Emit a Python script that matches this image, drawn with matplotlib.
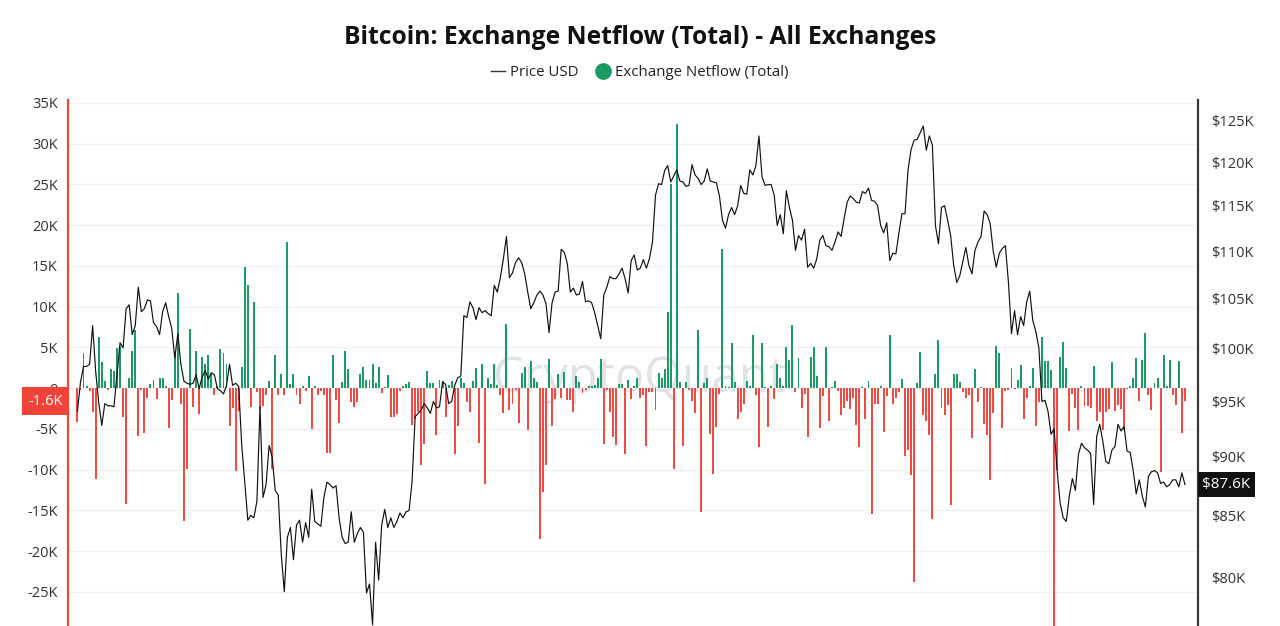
import numpy as np
import pandas as pd
import matplotlib
matplotlib.use("Agg")
import matplotlib.pyplot as plt
import matplotlib.dates as mdates
import matplotlib.ticker as mticker
from matplotlib.lines import Line2D

# ---------------- data ----------------
start_date = "2025-01-01"

# Exchange netflow (thousand BTC), one value per day
netflow_k = [
    -4.2, -0.3, 4.3, 0.3, -0.4, -2.9, -11.2, 6.2, 3.2, 0.9,
    -0.2, 2.3, 2.1, 4.9, 5.2, -3.5, -14.2, 1.2, 4.5, 7.1,
    -5.9, -0.2, -5.5, -1.2, 0.5, 1.0, -1.3, 1.2, 1.2, 0.2,
    -4.9, -1.5, 4.4, 11.7, -2.0, -16.3, -9.9, 7.2, -2.3, 4.6,
    -3.2, 3.8, 2.9, 4.0, 1.7, -0.8, 0.2, 4.8, 4.3, 2.9,
    -4.6, -2.5, -10.2, -2.8, 2.6, 14.8, 12.6, -2.3, 10.6, -0.5,
    -2.7, -2.2, -0.9, 0.9, -9.9, 4.1, -0.8, 1.75, -0.8, 17.9,
    0.5, 1.75, -0.8, -2.0, 0.2, -0.4, 1.5, -5.0, 0.2, -0.8,
    -0.4, -0.8, -8.0, -8.0, 4.0, -1.5, -4.25, 0.8, 4.5, 2.3,
    -1.7, -2.3, -1.7, 1.7, 2.6, 1.0, 1.0, 3.0, 0.6, 2.6,
    -0.6, 0.1, 1.6, -3.5, -3.5, -3.2, -0.4, 0.2, 0.5, 0.7,
    -4.5, -3.75, -2.9, -9.4, -6.9, 2.1, 0.6, 0.6, -5.75, 1.0,
    0.9, -3.5, 0.4, 0.9, -8.1, -4.6, 1.25, 0.6, -1.7, -2.9,
    0.9, 2.4, -6.75, 2.9, -11.75, 1.25, 0.5, 2.9, 0.4, -0.8,
    -3.1, 7.8, -2.7, -2.0, -0.3, -4.25, 1.9, 2.6, -5.1, 3.3,
    1.25, 0.75, -18.5, -12.8, -9.4, 3.5, -4.6, -1.3, 1.7, -1.2,
    2.0, -1.5, -1.5, -3.0, 1.5, 0.75, -0.6, -0.25, 0.2, 0.3,
    0.4, 1.25, 3.5, -6.9, -0.2, -2.9, -6.0, -7.0, 0.5, 0.5,
    -8.1, 1.0, -1.3, 0.2, 1.25, -1.25, -0.8, -7.1, -0.5, -0.5,
    -2.7, 1.8, 1.25, 2.3, 9.3, 25.0, -9.9, 32.4, 0.75, -7.1,
    0.75, -0.3, -1.6, -3.1, 7.1, -15.2, 0.6, 1.2, -5.6, -10.5,
    -4.8, -0.7, 17.1, 0.3, 0.1, 5.5, 0.8, -3.8, -2.9, -2.0,
    0.9, 0.2, 6.5, -0.9, -7.2, 5.5, 0.1, -4.8, 0.3, -1.3,
    2.9, 1.2, 0.2, 5.0, 3.4, 7.7, -0.5, 3.7, -2.5, -0.75,
    -6.0, 3.75, 5.0, 1.5, -4.9, -1.0, 5.0, -4.0, 0.1, 0.9,
    -0.4, -3.3, -2.5, -1.6, -2.6, -1.2, -4.5, -7.2, 0.15, -3.8,
    0.9, -15.4, -1.9, -1.9, 0.3, -5.4, -1.0, 6.5, -1.9, -1.2,
    -0.5, 1.1, -8.3, -7.6, -10.7, -23.8, 0.6, 4.4, -3.25, -4.0,
    -5.8, -16.1, 1.7, 5.9, -2.5, -3.3, -2.1, -14.4, 1.7, 1.75,
    0.7, -0.5, -1.2, -0.8, -6.1, 2.3, -1.7, 0.15, -4.4, -5.75,
    -11.25, -3.1, 5.2, 4.25, -4.9, -0.4, -0.2, 2.4, -0.1, 1.0,
    2.8, -3.8, -1.25, 0.2, 2.4, -4.6, -1.75, 6.2, 3.3, 3.3,
    2.2, -32.0, -10.0, 3.75, 5.6, 2.5, -5.3, -0.75, -2.5, -5.1,
    0.3, -2.2, -2.2, -2.4, 2.7, -4.1, -2.9, -5.2, -3.0, -2.6,
    3.2, -2.8, -2.1, -2.6, -5.1, -0.1, 0.2, 1.25, 3.7, -1.6,
    3.4, 6.7, -0.8, -2.7, 0.6, 1.25, -10.3, 4.1, 0.2, 3.4,
    -0.9, -2.1, 3.3, -5.5, -1.6,
]

# Bitcoin price (thousand USD), one value per day
price_k = [
    94.1, 96.8, 98.3, 98.3, 98.5, 102.3, 97.8, 94.9, 92.8, 94.8,
    94.6, 94.6, 94.5, 97.5, 100.6, 100.1, 104.0, 104.4, 101.4, 102.3,
    106.2, 103.7, 104.0, 104.9, 104.8, 102.6, 102.2, 101.4, 103.7, 104.6,
    103.2, 102.0, 99.1, 101.5, 98.5, 96.9, 96.7, 96.6, 96.7, 97.5,
    96.2, 97.3, 97.9, 97.1, 97.7, 97.5, 96.2, 96.0, 95.7, 96.5,
    98.5, 96.5, 96.7, 96.4, 91.0, 87.8, 84.6, 85.0, 84.8, 86.2,
    94.5, 86.5, 87.6, 91.0, 90.0, 87.1, 86.7, 81.8, 78.9, 83.2,
    84.0, 81.4, 84.2, 84.6, 82.8, 84.4, 83.2, 87.2, 84.5, 84.3,
    84.1, 86.5, 87.8, 87.6, 87.3, 87.5, 84.8, 83.2, 82.7, 82.8,
    85.3, 82.8, 83.5, 84.0, 83.6, 78.8, 79.5, 76.4, 82.8, 79.8,
    84.2, 85.5, 84.0, 84.8, 84.0, 84.5, 85.2, 84.8, 85.3, 85.4,
    87.9, 93.6, 93.9, 94.2, 94.8, 94.4, 93.9, 95.0, 94.4, 94.5,
    96.8, 96.6, 94.8, 95.0, 96.5, 97.2, 97.4, 103.3, 103.1, 104.7,
    104.1, 102.9, 104.1, 103.6, 103.8, 103.5, 103.3, 106.4, 105.7, 107.2,
    109.2, 111.6, 107.2, 107.7, 108.8, 109.3, 108.8, 107.6, 105.7, 104.0,
    104.6, 105.4, 105.8, 105.4, 104.5, 101.6, 104.6, 105.7, 105.8, 110.2,
    109.9, 108.7, 105.7, 106.1, 105.4, 105.5, 106.8, 104.7, 104.8, 104.6,
    103.6, 102.3, 101.0, 105.4, 106.2, 107.3, 107.1, 107.1, 107.6, 108.2,
    107.1, 105.6, 109.0, 109.6, 108.0, 108.2, 109.1, 108.2, 109.2, 111.0,
    116.2, 117.5, 117.4, 119.0, 119.6, 117.7, 118.4, 119.1, 117.8, 117.7,
    117.2, 117.3, 119.7, 118.5, 118.1, 117.4, 117.8, 119.2, 117.8, 117.7,
    117.6, 116.1, 113.4, 112.5, 114.0, 114.8, 114.0, 115.0, 117.3, 116.4,
    116.3, 119.1, 118.5, 119.6, 123.1, 118.3, 117.3, 117.4, 117.4, 116.2,
    112.8, 114.0, 111.9, 116.7, 114.8, 113.4, 110.1, 111.7, 111.2, 112.4,
    108.3, 108.7, 108.2, 109.2, 111.2, 111.7, 110.6, 110.5, 110.1, 111.0,
    112.1, 111.6, 113.6, 115.4, 116.1, 115.8, 115.4, 115.3, 116.6, 116.4,
    117.0, 115.6, 115.5, 115.0, 112.8, 112.0, 113.1, 109.0, 109.8, 109.7,
    112.0, 114.1, 114.1, 119.1, 121.5, 122.6, 122.7, 123.5, 124.3, 121.4,
    123.1, 122.0, 112.8, 110.8, 114.8, 115.0, 113.4, 111.7, 108.5, 106.7,
    107.4, 108.9, 110.4, 108.5, 107.6, 110.1, 111.0, 111.6, 114.4, 114.0,
    113.0, 110.0, 108.3, 109.8, 110.3, 110.6, 106.7, 101.5, 103.8, 101.4,
    103.2, 102.3, 104.7, 105.8, 102.8, 101.7, 100.1, 95.0, 95.1, 94.1,
    92.0, 92.5, 88.8, 86.0, 84.8, 84.5, 86.6, 88.1, 87.1, 90.2,
    91.2, 90.8, 90.6, 90.3, 85.9, 91.8, 92.9, 91.4, 89.6, 89.4,
    90.6, 90.9, 92.9, 92.3, 92.7, 90.5, 90.4, 88.8, 86.8, 88.0,
    86.6, 85.7, 88.3, 88.7, 88.8, 88.6, 87.7, 87.8, 87.4, 87.6,
    88.0, 88.0, 87.4, 88.6, 87.6,
]

left_ticks_k = [-25, -20, -15, -10, -5, 0, 5, 10, 15, 20, 25, 30, 35]
right_ticks_k = [80, 85, 90, 95, 100, 105, 110, 115, 120, 125]

title_text = "Bitcoin: Exchange Netflow (Total) - All Exchanges"
price_label = "Price USD"
netflow_label = "Exchange Netflow (Total)"
watermark_text = "CryptoQuant"

# ---------------- style ----------------
GREEN = "#1b9a63"
RED = "#ef4a43"
SPINE_RED = "#f2473f"
FONT = "Open Sans"
W, H = 1280, 626

dates = pd.date_range(start_date, periods=len(netflow_k), freq="D")
xd = mdates.date2num(dates)
nf = np.array(netflow_k)
px = np.array(price_k)

fig = plt.figure(figsize=(W / 100, H / 100), dpi=100)
fig.patch.set_facecolor("white")
ax = fig.add_axes([68 / W, 0, (1198 - 68) / W, 526 / H])
ax.set_facecolor("white")

# watermark
ax.text(0.506, 0.47, watermark_text, transform=ax.transAxes, ha="center", va="center",
        fontsize=35, color="#dfe2e6", family=FONT, zorder=0)

colors = [GREEN if v >= 0 else RED for v in nf]
ax.bar(xd, nf, width=0.64, color=colors, linewidth=0, zorder=2)

ax.set_xlim(xd[0] - 3.1, xd[0] + 368.3)
ax.set_ylim(-29.2, 35.34)
ax.set_yticks(left_ticks_k)
ax.yaxis.set_major_formatter(mticker.FuncFormatter(lambda v, p: "0" if v == 0 else f"{int(v)}K"))
ax.grid(axis="y", color="#f1f1f1", linewidth=1.0, zorder=0)
ax.set_axisbelow(True)
ax.tick_params(axis="y", length=0, pad=7.5, labelsize=10.5, labelcolor="#333333")
ax.tick_params(axis="x", length=0, labelbottom=False)
for lab in ax.get_yticklabels():
    lab.set_family(FONT)
for s in ["top", "bottom", "right"]:
    ax.spines[s].set_visible(False)
ax.spines["left"].set_color(SPINE_RED)
ax.spines["left"].set_linewidth(1.6)

ax2 = ax.twinx()
ax2.set_yscale("log")
ax2.plot(xd, px, color="#111111", linewidth=0.85, zorder=3)
ax2.set_ylim(76.3, 127.5)
ax2.yaxis.set_major_locator(mticker.FixedLocator(right_ticks_k))
ax2.yaxis.set_minor_locator(mticker.NullLocator())
ax2.yaxis.set_major_formatter(mticker.FuncFormatter(lambda v, p: f"${int(round(v))}K"))
ax2.tick_params(axis="y", length=0, pad=9.5, labelsize=10.5, labelcolor="#333333")
for lab in ax2.get_yticklabels():
    lab.set_family(FONT)
for s in ["top", "bottom", "left"]:
    ax2.spines[s].set_visible(False)
ax2.spines["right"].set_color("#3a3a3a")
ax2.spines["right"].set_linewidth(1.6)

# last-value flags
ax.annotate(f"{nf[-1]:.1f}K", xy=(0, nf[-1]), xycoords=("axes fraction", "data"),
            xytext=(-4, 0), textcoords="offset points", ha="right", va="center",
            fontsize=10.5, color="white", family=FONT, annotation_clip=False, zorder=10,
            bbox=dict(boxstyle="square,pad=0.42", fc="#f0443a", ec="none"))
ax2.annotate(f"${px[-1]:.1f}K", xy=(1, px[-1]), xycoords=("axes fraction", "data"),
             xytext=(3, 0), textcoords="offset points", ha="left", va="center",
             fontsize=11, color="white", family=FONT, annotation_clip=False, zorder=10,
             bbox=dict(boxstyle="square,pad=0.3", fc="#111111", ec="none"))

# title & legend
fig.text(0.5, 1 - 38 / H, title_text, ha="center", va="center", fontsize=17.7,
         fontweight="bold", family=FONT, color="#111111")
handles = [Line2D([0], [0], color="#333333", lw=1.0),
           Line2D([0], [0], marker="o", color="none", markerfacecolor=GREEN,
                  markeredgecolor=GREEN, markersize=11)]
leg = fig.legend(handles, [price_label, netflow_label], loc="center",
                 bbox_to_anchor=(0.5, 1 - 73 / H), ncol=2, frameon=False,
                 handlelength=0.9, handletextpad=0.35, columnspacing=1.2,
                 prop={"family": FONT, "size": 10.8})
for t in leg.get_texts():
    t.set_color("#222222")

fig.savefig("out.png", dpi=100, facecolor="white")
